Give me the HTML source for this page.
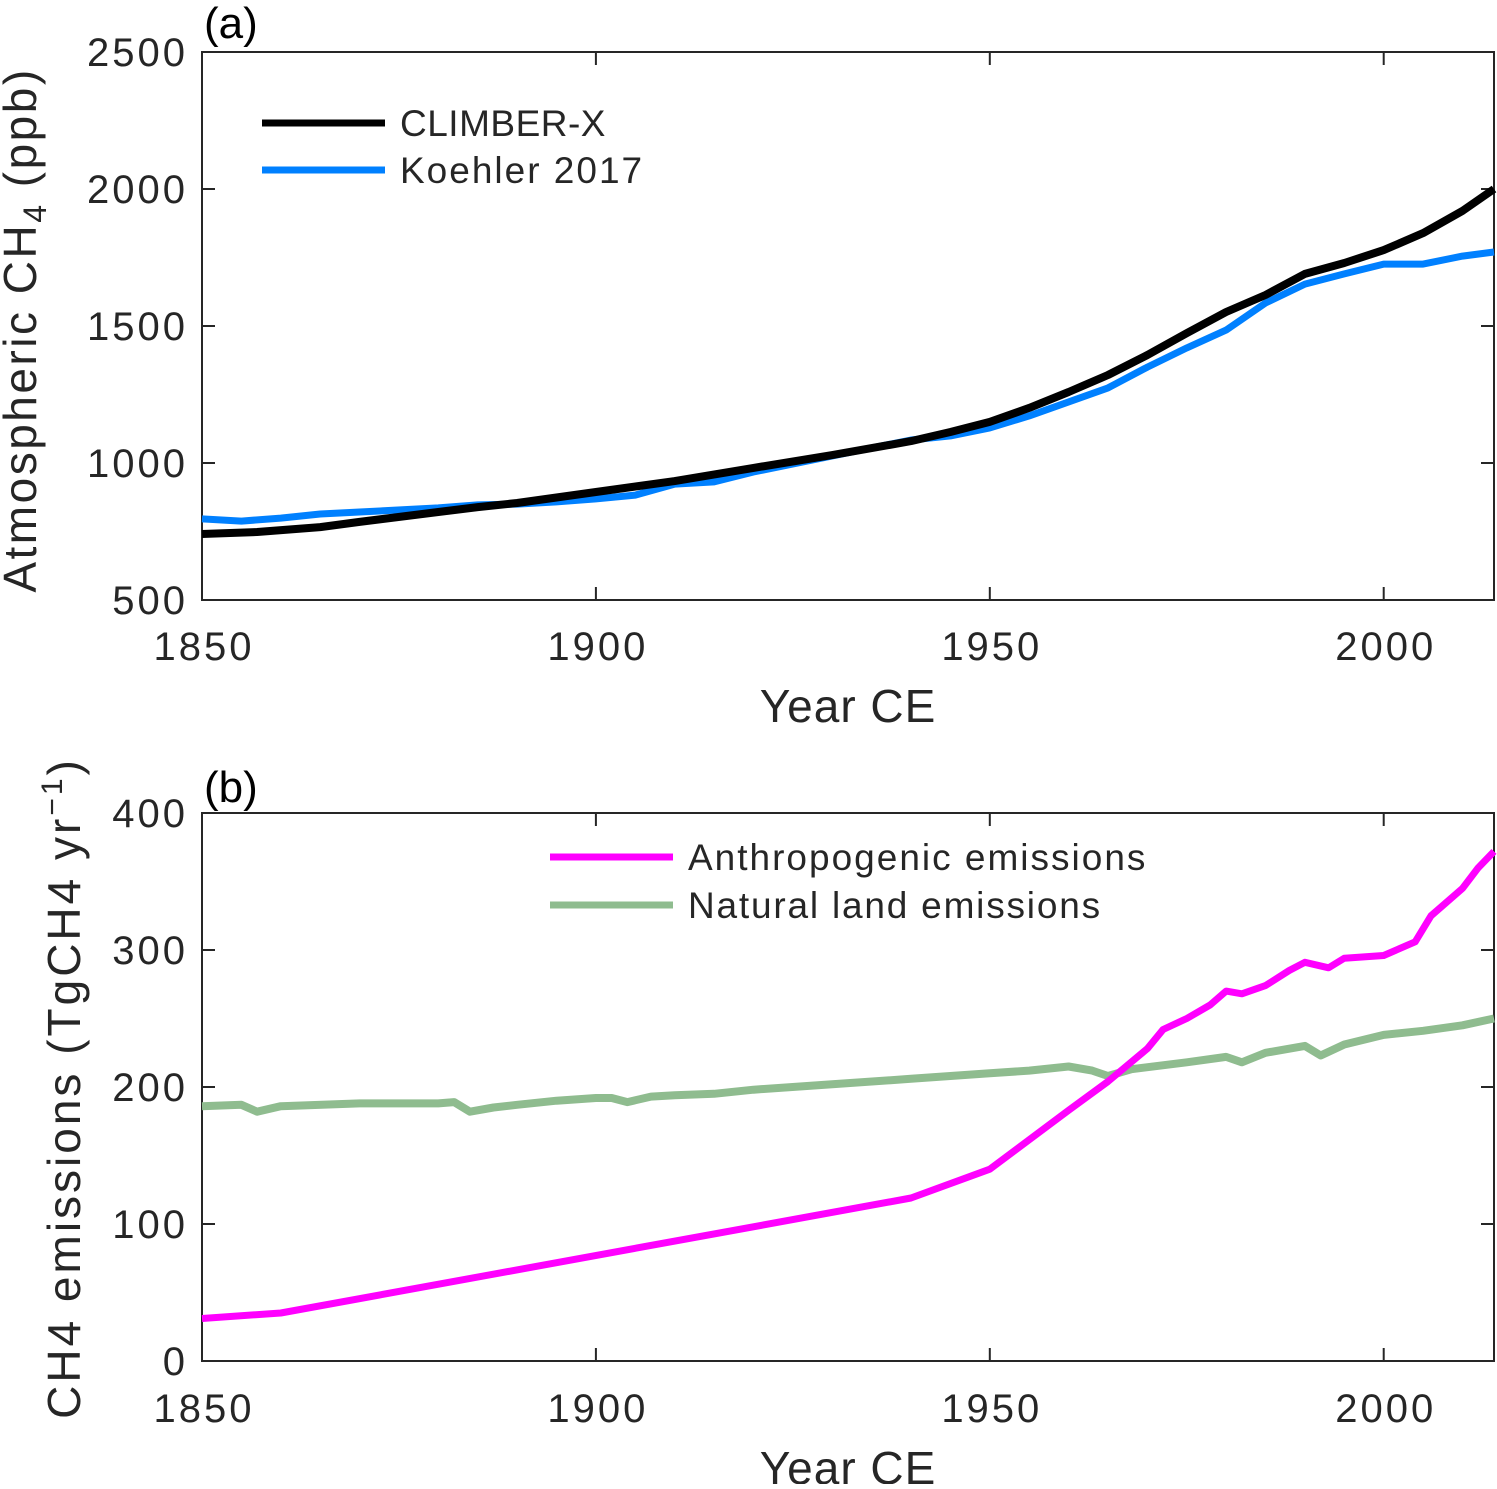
<!DOCTYPE html>
<html><head><meta charset="utf-8"><style>
body{margin:0;background:#fff}
svg text{font-family:"Liberation Sans","DejaVu Sans",sans-serif;fill:#262626}
</style></head><body>
<svg id="fig" width="1497" height="1484" viewBox="0 0 1497 1484" xmlns="http://www.w3.org/2000/svg"></svg>
<script>
const years=[1850,1857,1865,1870,1880,1885,1890,1900,1910,1920,1930,1940,1945,1950,1955,1960,1965,1970,1975,1980,1985,1990,1995,2000,2005,2010,2014];
const climberX=[741,748,766,785,821,839,854,894,934,982,1029,1080,1113,1150,1201,1259,1321,1394,1474,1551,1613,1690,1730,1777,1839,1920,2000];
const koehlerYears=[1850,1855,1860,1865,1870,1880,1885,1890,1895,1900,1905,1910,1915,1920,1930,1940,1945,1950,1955,1960,1965,1970,1975,1980,1985,1990,1995,2000,2005,2010,2014];
const koehler=[796,788,799,814,821,836,847,850,858,869,883,923,931,967,1026,1084,1099,1128,1172,1223,1274,1350,1420,1485,1584,1653,1690,1726,1726,1755,1770];
const anthroYears=[1850,1860,1940,1950,1960,1965,1970,1972,1975,1978,1980,1982,1985,1988,1990,1993,1995,2000,2004,2006,2010,2012,2014];
const anthro=[31,35,119,140,183,204,228,242,250,260,270,268,274,285,291,287,294,296,306,325,345,360,372];
const natYears=[1850,1855,1857,1860,1870,1880,1882,1884,1887,1890,1895,1900,1902,1904,1907,1910,1915,1920,1930,1940,1950,1955,1960,1963,1965,1968,1975,1980,1982,1985,1990,1992,1995,2000,2005,2010,2014];
const natural=[186,187,182,186,188,188,189,182,185,187,190,192,192,189,193,194,195,198,202,206,210,212,215,212,208,213,218,222,218,225,230,223,231,238,241,245,250];
const xTicks=[1850,1900,1950,2000];
const yTicksA=[500,1000,1500,2000,2500];
const yTicksB=[0,100,200,300,400];

const NS="http://www.w3.org/2000/svg";
const svg=document.getElementById('fig');
function el(t,a,p){const e=document.createElementNS(NS,t);for(const k in a)e.setAttribute(k,a[k]);(p||svg).appendChild(e);return e;}
const L=202,R=1494;
const xs=v=>L+(v-1850)*(R-L)/(2014-1850);
function panel(top,bot,ymin,ymax,yt,name){
  const ys=v=>bot-(v-ymin)*(bot-top)/(ymax-ymin);
  const g=el('g',{});
  
  
  return {g,ys,top,bot,yt,ymin,ymax};
}
function axes(P,xlabY,xtitleY){
  const {g,ys,top,bot,yt}=P;
  const fr=el('rect',{x:L,y:top,width:R-L,height:bot-top,fill:'none',stroke:'#262626','stroke-width':2},g);
  
  
  xTicks.forEach(t=>{
    const x=xs(t);
    el('line',{x1:x,x2:x,y1:bot,y2:bot-13,stroke:'#262626','stroke-width':2},g);
    el('line',{x1:x,x2:x,y1:top,y2:top+13,stroke:'#262626','stroke-width':2},g);
    const tx=el('text',{x:x+2,y:xlabY,'font-size':40,'letter-spacing':3,'text-anchor':'middle'},g);tx.textContent=t;
    
    
  });
  yt.forEach(t=>{
    const y=ys(t);
    el('line',{x1:L,x2:L+13,y1:y,y2:y,stroke:'#262626','stroke-width':2},g);
    el('line',{x1:R,x2:R-13,y1:y,y2:y,stroke:'#262626','stroke-width':2},g);
    const tx=el('text',{x:188,y:y+14,'font-size':40,'letter-spacing':3,'text-anchor':'end'},g);tx.textContent=t;
    
    
  });
  const xt=el('text',{x:848,y:xtitleY,'font-size':46,'letter-spacing':1,'text-anchor':'middle'},g);xt.textContent='Year CE';
  
  
}
function series(P,xv,yv,color,w,name){
  const d=xv.map((x,i)=>(i?'L':'M')+xs(x).toFixed(1)+' '+P.ys(yv[i]).toFixed(1)).join(' ');
  const p=el('path',{d:d,fill:'none',stroke:color,'stroke-width':w,'stroke-linejoin':'round'},P.g);
  
  
}
function legend(P,x,y,color,label,name,ls){
  const l=el('line',{x1:x,x2:x+123,y1:y,y2:y,stroke:color,'stroke-width':7},P.g);
  
  
  const t=el('text',{x:x+138,y:y+13,'font-size':37,'letter-spacing':ls,fill:'#000'},P.g);t.textContent=label;
  
  
}
// panel a
const A=panel(52,600,500,2500,yTicksA,'panel-a');
axes(A,660,722);
series(A,koehlerYears,koehler,'#0080ff',7,'koehler-2017-line');
series(A,years,climberX,'#000',8,'climber-x-line');
legend(A,262,123,'#000','CLIMBER-X','legend-climber-x',0.5);
legend(A,262,170,'#0080ff','Koehler 2017','legend-koehler',2);
// panel b
const B=panel(813,1361,0,400,yTicksB,'panel-b');
axes(B,1422,1484);
series(B,natYears,natural,'#8fbc8f',8,'natural-land-emissions-line');
series(B,anthroYears,anthro,'#ff00ff',7,'anthropogenic-emissions-line');
legend(B,550,857,'#ff00ff','Anthropogenic emissions','legend-anthropogenic',2);
legend(B,550,905,'#8fbc8f','Natural land emissions','legend-natural',1.8);
</script>
<div style="position:absolute;left:0;top:0;width:1497px;height:1484px;pointer-events:none">
<svg width="1497" height="1484" style="position:absolute;left:0;top:0">
<text x="204" y="38" font-size="44" style="font-family:'Liberation Sans',sans-serif;fill:#000">(a)</text>
<text x="204" y="802" font-size="44" style="font-family:'Liberation Sans',sans-serif;fill:#000">(b)</text>
<text transform="translate(36,330) rotate(-90)" text-anchor="middle" font-size="46" letter-spacing="2.5" style="font-family:'Liberation Sans',sans-serif;fill:#262626">Atmospheric CH<tspan font-size="32" dy="10">4</tspan><tspan dy="-10"> (ppb)</tspan></text>
<text transform="translate(80,1088) rotate(-90)" text-anchor="middle" font-size="46" letter-spacing="3" style="font-family:'Liberation Sans',sans-serif;fill:#262626">CH4 emissions (TgCH4 yr<tspan font-size="30" dy="-18">−1</tspan><tspan dy="18">)</tspan></text>
</svg></div>
</body></html>
